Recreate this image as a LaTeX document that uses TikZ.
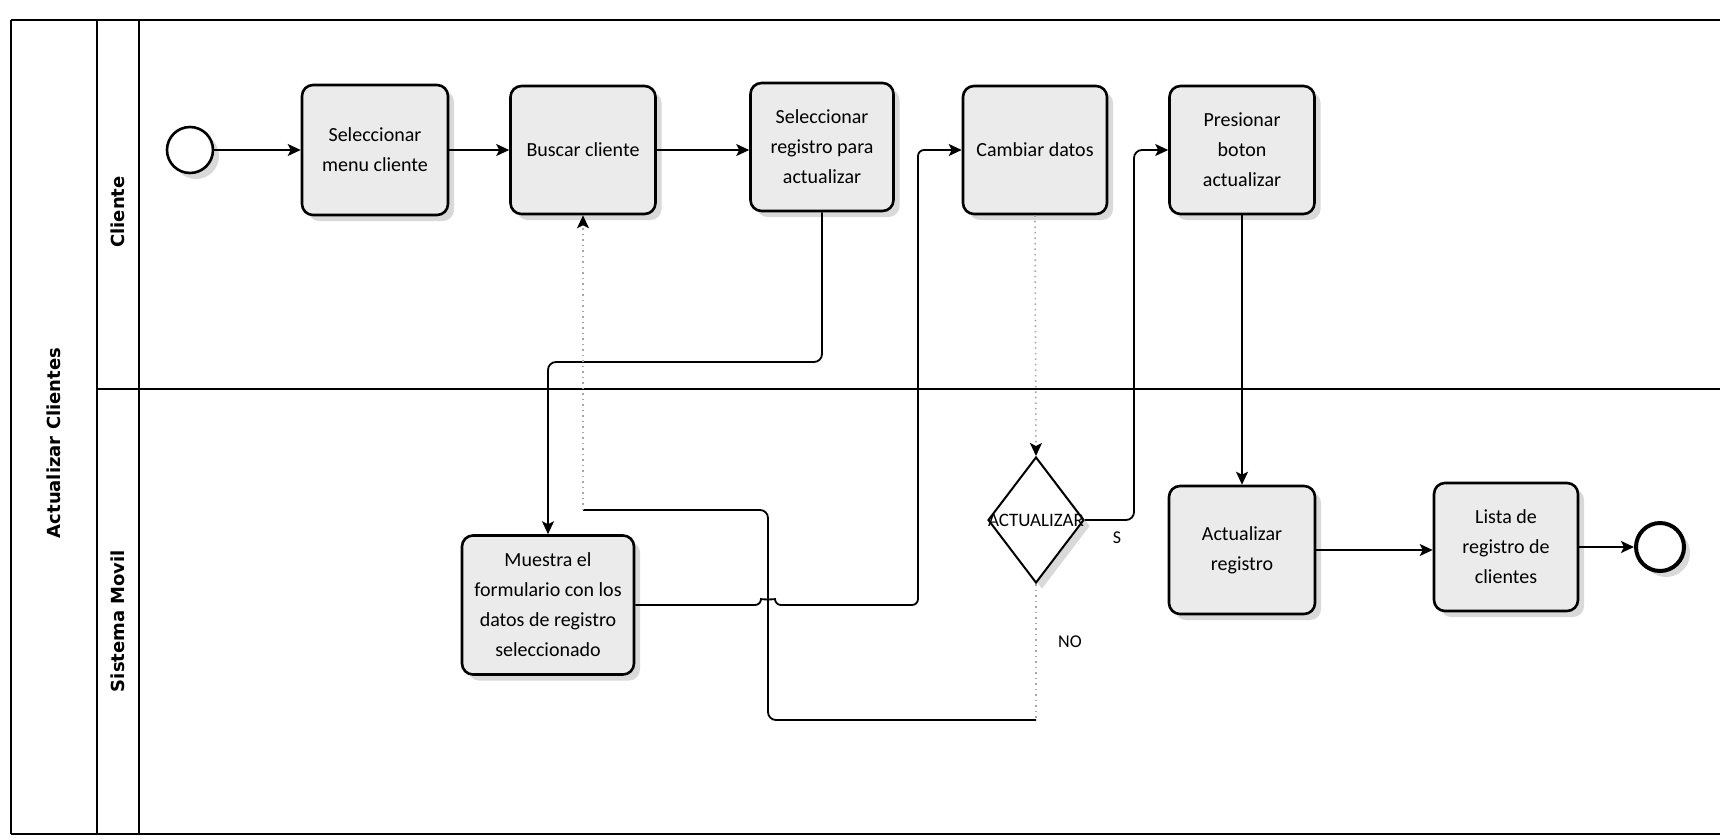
\documentclass[tikz,border=0pt]{standalone}
\usepackage{fontspec}
\setmainfont{Carlito}
\newfontfamily\lanefont{DejaVu Sans}
\usetikzlibrary{shapes.geometric,arrows.meta,shadows,calc}
\begin{document}
\begin{tikzpicture}[x=1pt,y=-1pt,
  shad/.style={drop shadow={shadow xshift=6pt, shadow yshift=-6pt, fill=gray!30, opacity=1}},
  task/.style={draw, line width=2.6pt, rounded corners=11pt, fill=gray!16, align=center,
     font=\fontsize{20}{30}\selectfont, inner sep=2pt, shad},
  evt/.style={circle, draw, fill=white, inner sep=0pt, shad},
  gate/.style={diamond, draw, line width=2pt, fill=white, inner sep=0pt,
     minimum width=96pt, minimum height=126pt, shad},
  lane/.style={rotate=90, font=\lanefont\bfseries\fontsize{18}{22}\selectfont},
  frame/.style={line width=1.8pt},
  flow/.style={line width=1.8pt, -{Stealth[length=13pt,width=12pt,inset=3pt]}},
  flowline/.style={line width=1.8pt},
  faint/.style={line width=1.6pt, gray!70, dash pattern=on 1.5pt off 4pt},
  faintarrow/.style={faint, -{Stealth[length=13pt,width=12pt,inset=3pt,fill=black,color=black]}},
  lbl/.style={font=\fontsize{18}{22}\selectfont}
]
\useasboundingbox (0,0) rectangle (1720,839);
\fill[white] (0,0) rectangle (1720,839);

% pool and lanes
\draw[frame] (11,20) -- (1720,20);
\draw[frame] (11,834) -- (1720,834);
\draw[frame] (11,20) -- (11,834);
\draw[frame] (97,20) -- (97,834);
\draw[frame] (139,20) -- (139,834);
\draw[frame] (97,389) -- (1720,389);
\node[lane] (pool) at (54,443) {Actualizar Clientes};
\node[lane] (lcli) at (118,212) {Cliente};
\node[lane] (lsis) at (118,621) {Sistema Movil};

% nodes
\node[evt, line width=2.6pt, minimum size=46pt] (start) at (190,150) {};
\node[task, minimum width=146pt, minimum height=130pt] (t1) at (375,150) {Seleccionar\\menu cliente};
\node[task, minimum width=145pt, minimum height=128pt] (t2) at (583,150) {Buscar cliente};
\node[task, minimum width=143pt, minimum height=128pt] (t3) at (822,147) {Seleccionar\\registro para\\actualizar};
\node[task, minimum width=144pt, minimum height=128pt] (t4) at (1035,150) {Cambiar datos};
\node[task, minimum width=145pt, minimum height=128pt] (t5) at (1242,150) {Presionar\\boton\\actualizar};
\node[task, minimum width=172pt, minimum height=139pt] (t6) at (548,605) {Muestra el\\formulario con los\\datos de registro\\seleccionado};
\node[gate] (gw) at (1036,520) {};
\node[font=\fontsize{19}{22}\selectfont] (gwt) at (gw) {ACTUALIZAR};
\node[task, minimum width=146pt, minimum height=128pt] (t7) at (1242,550) {Actualizar\\registro};
\node[task, minimum width=144pt, minimum height=128pt] (t8) at (1506,547) {Lista de\\registro de\\clientes};
\node[evt, line width=4pt, minimum size=48pt] (end) at (1660,547) {};

% connectors
\draw[flow] (start.east) -- (start.east -| t1.west);
\draw[flow] (t1.east) -- (t1.east -| t2.west);
\draw[flow] (t2.east) -- (t2.east -| t3.west);
\draw[flow, rounded corners=8pt] (t3.south) |- (548,362) -- (t6.north);
\draw[flow, rounded corners=6pt] (t6.east) -- (761,605) to[out=90,in=90] (775,605) -- (918,605) -- (918,150) -- (t4.west);
\draw[faintarrow] (t4.south) -- (gw.north);
\draw[flow, rounded corners=8pt] (gw.east) -| (1134,150) -- (t5.west);
\coordinate (n1) at (gw.south |- 0,720);
\coordinate (n2) at (t2.south |- 0,510);
\draw[faint] (gw.south) -- (n1);
\draw[flowline, rounded corners=8pt] (n1) -- (768,720) -- (768,510) -- (n2);
\draw[faintarrow] (n2) -- (t2.south);
\draw[flow] (t5.south) -- (t7.north);
\draw[flow] (t7.east) -- (t7.east -| t8.west);
\draw[flow] (t8.east) -- (end.west);

% labels
\node[lbl] (lsi) at (1117,538) {S};
\node[lbl] (lno) at (1070,642) {NO};
\end{tikzpicture}
\end{document}
